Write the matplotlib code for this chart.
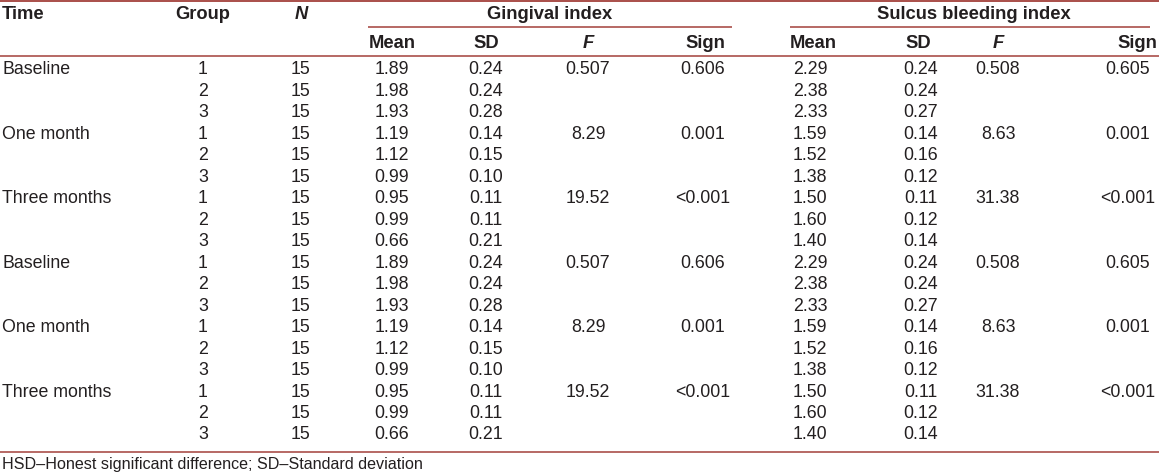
import matplotlib
matplotlib.use("Agg")
from matplotlib import pyplot as plt

plt.rcParams["font.family"] = ["Liberation Sans", "DejaVu Sans"]

# table values
times = ["Baseline", "One month", "Three months",
         "Baseline", "One month", "Three months"]
groups = [1, 2, 3]
n_per_group = 15

gi_mean = [1.89, 1.98, 1.93, 1.19, 1.12, 0.99, 0.95, 0.99, 0.66] * 2
gi_sd = [0.24, 0.24, 0.28, 0.14, 0.15, 0.10, 0.11, 0.11, 0.21] * 2
gi_f = ["0.507", "8.29", "19.52"] * 2
gi_sign = ["0.606", "0.001", "<0.001"] * 2

sbi_mean = [2.29, 2.38, 2.33, 1.59, 1.52, 1.38, 1.50, 1.60, 1.40] * 2
sbi_sd = [0.24, 0.24, 0.27, 0.14, 0.16, 0.12, 0.11, 0.12, 0.14] * 2
sbi_f = ["0.508", "8.63", "31.38"] * 2
sbi_sign = ["0.605", "0.001", "<0.001"] * 2

footnote = "HSD\u2013Honest significant difference; SD\u2013Standard deviation"

W, H = 1159, 475
fig = plt.figure(figsize=(W / 100, H / 100), dpi=100)
ax = fig.add_axes([0, 0, 1, 1])
ax.set_xlim(0, W)
ax.set_ylim(H, 0)
ax.axis("off")

txt = "#231f20"
rule = "#a3403a"
fs = 12.8
hfs = 13.2

# rules
ax.hlines(1, 0, W, color=rule, lw=1.3)
ax.hlines(27, 368, 732, color=rule, lw=1.1)
ax.hlines(27, 790, 1150, color=rule, lw=1.1)
ax.hlines(55.5, 0, W, color=rule, lw=1.1)
ax.hlines(452, 0, W, color=rule, lw=1.1)

# header
def head(x, y, s, ha="center", style="normal"):
    ax.text(x, y, s, ha=ha, va="center", fontsize=hfs, fontweight="bold",
            fontstyle=style, color=txt)

head(2, 14.5, "Time", ha="left")
head(203, 14.5, "Group")
head(301, 14.5, "N", style="italic")
head(550, 14.5, "Gingival index")
head(974, 14.5, "Sulcus bleeding index")
for m, sd, f, sg in [(392, 486, 588, 705), (813, 918, 998, 1137)]:
    head(m, 43, "Mean")
    head(sd, 43, "SD")
    head(f, 43, "F", style="italic")
    head(sg, 43, "Sign")

# body
y0, dy = 70, 21.47
for i in range(len(gi_mean)):
    y = y0 + i * dy
    block, g = divmod(i, 3)
    kw = dict(va="center", fontsize=fs, color=txt)
    if g == 0:
        ax.text(2, y, times[block], ha="left", **kw)
        ax.text(588, y, gi_f[block], ha="center", **kw)
        ax.text(703, y, gi_sign[block], ha="center", **kw)
        ax.text(998, y, sbi_f[block], ha="center", **kw)
        ax.text(1128, y, sbi_sign[block], ha="center", **kw)
    ax.text(203, y, str(groups[g]), ha="center", **kw)
    ax.text(300, y, str(n_per_group), ha="center", **kw)
    ax.text(392, y, f"{gi_mean[i]:.2f}", ha="center", **kw)
    ax.text(486, y, f"{gi_sd[i]:.2f}", ha="center", **kw)
    ax.text(810, y, f"{sbi_mean[i]:.2f}", ha="center", **kw)
    ax.text(921, y, f"{sbi_sd[i]:.2f}", ha="center", **kw)

ax.text(2, 464, footnote, ha="left", va="center", fontsize=11.6, color=txt)

fig.savefig("out.png", dpi=100)
